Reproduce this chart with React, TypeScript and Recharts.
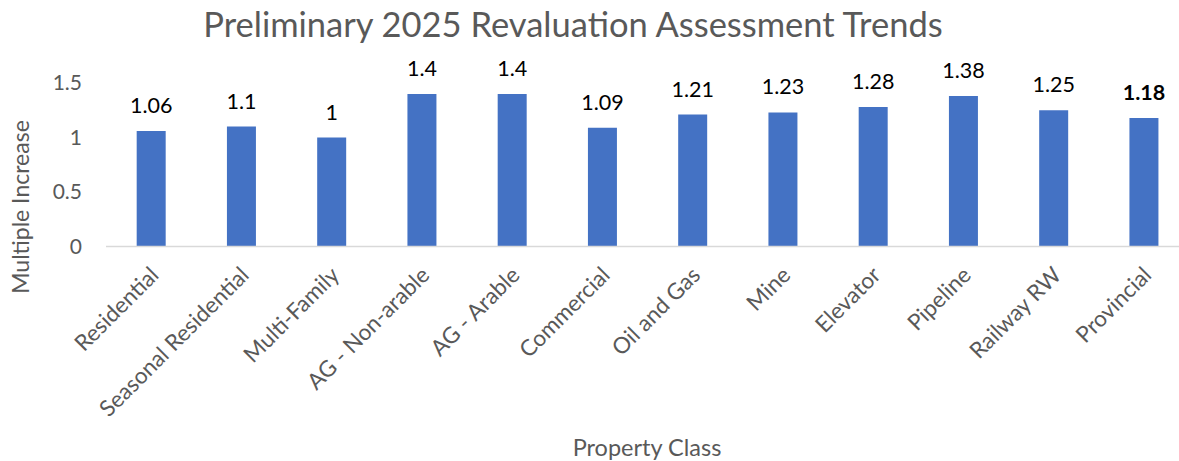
import { BarChart, Bar, XAxis, YAxis, LabelList } from "recharts";

const categories = [
  "Residential",
  "Seasonal Residential",
  "Multi-Family",
  "AG - Non-arable",
  "AG - Arable",
  "Commercial",
  "Oil and Gas",
  "Mine",
  "Elevator",
  "Pipeline",
  "Railway RW",
  "Provincial",
];
const multiples = [1.06, 1.1, 1, 1.4, 1.4, 1.09, 1.21, 1.23, 1.28, 1.38, 1.25, 1.18];
const labels = ["1.06", "1.1", "1", "1.4", "1.4", "1.09", "1.21", "1.23", "1.28", "1.38", "1.25", "1.18"];
const yTicks = [0, 0.5, 1, 1.5];

const data = categories.map((name, i) => ({ name, value: multiples[i], label: labels[i] }));

const FONT = "Lato, 'Open Sans', sans-serif";
const GREY = "#595959";

const XTick = (props: any) => {
  const { x, y, payload } = props;
  return (
    <text
      transform={`translate(${x + 9}, ${y + 22}) rotate(-45)`}
      textAnchor="end"
      fill={GREY}
      fontSize={22.5}
      fontFamily={FONT}
    >
      {payload.value}
    </text>
  );
};

const ValueLabel = (props: any) => {
  const { x, y, width, index } = props;
  const last = index === categories.length - 1;
  return (
    <text
      x={x + width / 2}
      y={y - 18}
      textAnchor="middle"
      fill="#000"
      fontSize={21.5}
      fontWeight={last ? 700 : 400}
      fontFamily={FONT}
    >
      {labels[index]}
    </text>
  );
};

export default function App() {
  return (
    <div
      style={{
        position: "absolute",
        left: 0,
        top: 0,
        width: 1179,
        height: 461,
        overflow: "hidden",
        background: "#fff",
        fontFamily: FONT,
      }}
    >
      <BarChart
        width={1200}
        height={461}
        data={data}
        margin={{ top: 83, right: 11, left: 0, bottom: 14.5 }}
        barCategoryGap="34%"
      >
        <XAxis
          dataKey="name"
          interval={0}
          height={200}
          axisLine={{ stroke: "#D9D9D9", strokeWidth: 1.5 }}
          tickLine={false}
          tick={<XTick />}
        />
        <YAxis
          width={106}
          domain={[0, 1.5]}
          ticks={yTicks}
          axisLine={false}
          tickLine={false}
          tickMargin={18}
          tick={{ fill: GREY, fontSize: 21, fontFamily: FONT }}
        />
        <Bar dataKey="value" fill="#4472C4" isAnimationActive={false}>
          <LabelList dataKey="label" content={<ValueLabel />} />
        </Bar>
        <text x={573} y={37} textAnchor="middle" fill={GREY} fontSize={34.5} fontFamily={FONT}>
          Preliminary 2025 Revaluation Assessment Trends
        </text>
        <text
          transform="translate(29, 207) rotate(-90)"
          textAnchor="middle"
          fill={GREY}
          fontSize={23}
          fontFamily={FONT}
        >
          Multiple Increase
        </text>
        <text x={647} y={456} textAnchor="middle" fill={GREY} fontSize={23.5} fontFamily={FONT}>
          Property Class
        </text>
      </BarChart>
    </div>
  );
}
